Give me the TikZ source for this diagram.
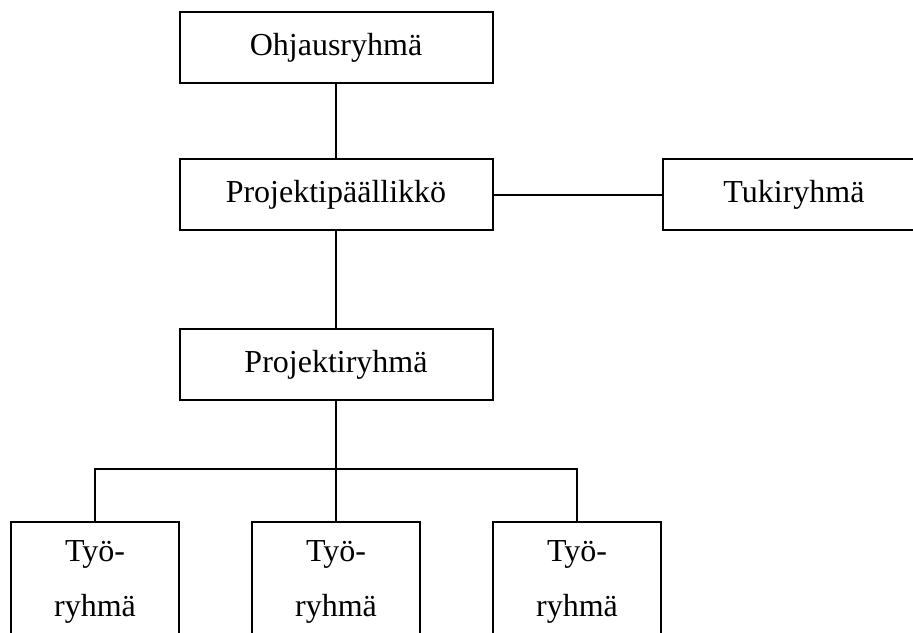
\documentclass[tikz,border=0pt]{standalone}
\usepackage{fontspec}
\setmainfont{Liberation Serif}
\usetikzlibrary{positioning}

\begin{document}
\begin{tikzpicture}[x=1pt, y=-1pt, line width=2pt,
    font=\fontsize{32}{55}\selectfont,
    laatikko/.style={draw, minimum width=313pt, minimum height=71pt},
    tyolaatikko/.style={draw, minimum width=168pt, minimum height=160pt,
        label={[align=center, anchor=north, inner sep=0pt, yshift=-19pt]north:Työ-\\ryhmä}}]
\clip (0,0) rectangle (913,632);
\node[laatikko] (ohjaus) at (336,47.5) {Ohjausryhmä};
\node[laatikko, below=74pt of ohjaus] (paallikko) {Projektipäällikkö};
\node[laatikko, minimum width=263pt, right=168pt of paallikko] (tuki) {Tukiryhmä};
\node[laatikko, below=97pt of paallikko] (projekti) {Projektiryhmä};
\node[tyolaatikko, below=120pt of projekti] (tyo2) {};
\node[tyolaatikko, left=71pt of tyo2] (tyo1) {};
\node[tyolaatikko, right=71pt of tyo2] (tyo3) {};
\coordinate (haara) at (336,468.5);

\draw (ohjaus) -- (paallikko);
\draw (paallikko) -- (tuki);
\draw (paallikko) -- (projekti);
\draw (projekti) -- (haara) -- (tyo2);
\draw (tyo1.north) |- (haara) -| (tyo3.north);
\end{tikzpicture}
\end{document}
